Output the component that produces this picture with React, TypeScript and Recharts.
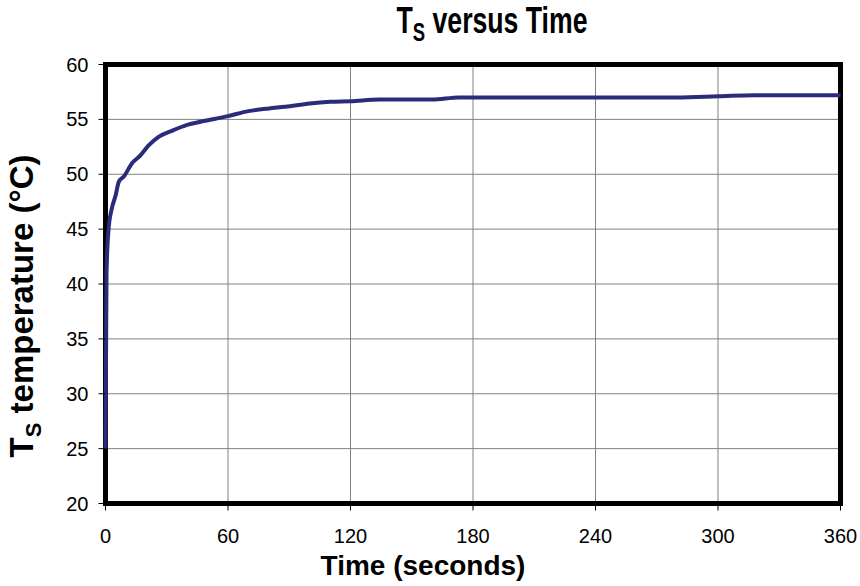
import React from "react";
import {
  LineChart,
  Line,
  XAxis,
  YAxis,
  CartesianGrid,
  ReferenceArea,
} from "recharts";

// time in seconds
const times = [
  0, 0.5, 1.5, 3, 5, 6.5, 9, 13, 17, 21, 26, 33, 40, 47, 60, 70, 80, 88, 100,
  110, 120, 134, 146, 160, 173, 200, 240, 280, 300, 318, 340, 360,
];
// surface temperature (°C)
const temps = [
  25, 41, 45, 46.8, 48.1, 49.3, 49.8, 51, 51.7, 52.6, 53.4, 54, 54.5, 54.8,
  55.3, 55.75, 56, 56.15, 56.45, 56.6, 56.65, 56.8, 56.8, 56.8, 57, 57, 57, 57,
  57.1, 57.2, 57.2, 57.2,
];

const xTicks = [0, 60, 120, 180, 240, 300, 360];
const yTicks = [20, 25, 30, 35, 40, 45, 50, 55, 60];

const data = times.map((t, i) => ({ t, ts: temps[i] }));

const SANS = '"Liberation Sans", Arial, Helvetica, sans-serif';

export default function App() {
  return (
    <div
      style={{
        position: "absolute",
        left: 0,
        top: 0,
        width: 860,
        height: 586,
        background: "#fff",
        fontFamily: SANS,
      }}
    >
      <LineChart
        width={860}
        height={586}
        data={data}
        margin={{ top: 64.5, right: 19.5, bottom: 42.5, left: 55.5 }}
      >
        <CartesianGrid stroke="#808080" strokeWidth={1} />
        <XAxis
          dataKey="t"
          type="number"
          domain={[0, 360]}
          ticks={xTicks}
          height={40}
          axisLine={false}
          tickLine={{ stroke: "#000" }}
          tickSize={7}
          tickMargin={18}
          tick={{ fill: "#000", fontSize: 20, fontFamily: SANS }}
        />
        <YAxis
          type="number"
          domain={[20, 60]}
          ticks={yTicks}
          width={50}
          axisLine={false}
          tickLine={{ stroke: "#000" }}
          tickSize={7}
          tickMargin={10}
          tick={{ fill: "#000", fontSize: 20, fontFamily: SANS }}
        />
        <ReferenceArea
          x1={0}
          x2={360}
          y1={20}
          y2={60}
          fill="none"
          fillOpacity={0}
          stroke="#000"
          strokeWidth={5}
          strokeOpacity={1}
        />
        <Line
          dataKey="ts"
          type="monotone"
          stroke="#2b2b7b"
          strokeWidth={4}
          dot={false}
          isAnimationActive={false}
        />
      </LineChart>

      {/* title, narrowed like the original condensed face */}
      <div
        style={{
          position: "absolute",
          left: 492,
          top: -1,
          transform: "translateX(-50%) scaleX(0.74)",
          whiteSpace: "nowrap",
          fontFamily: SANS,
          fontWeight: "bold",
          fontSize: 36,
          lineHeight: "44px",
          color: "#000",
        }}
      >
        T<sub style={{ fontSize: 25, lineHeight: 0 }}>S</sub> versus Time
      </div>

      <div
        style={{
          position: "absolute",
          left: 423,
          top: 550,
          transform: "translateX(-50%)",
          whiteSpace: "nowrap",
          fontFamily: SANS,
          fontWeight: "bold",
          fontSize: 28,
          color: "#000",
        }}
      >
        Time (seconds)
      </div>

      <div
        style={{
          position: "absolute",
          left: 25,
          top: 306,
          transform: "translate(-50%, -50%) rotate(-90deg)",
          whiteSpace: "nowrap",
          fontFamily: SANS,
          fontWeight: "bold",
          fontSize: 33,
          color: "#000",
        }}
      >
        T<sub style={{ fontSize: 22 }}>S</sub> temperature (°C)
      </div>
    </div>
  );
}
